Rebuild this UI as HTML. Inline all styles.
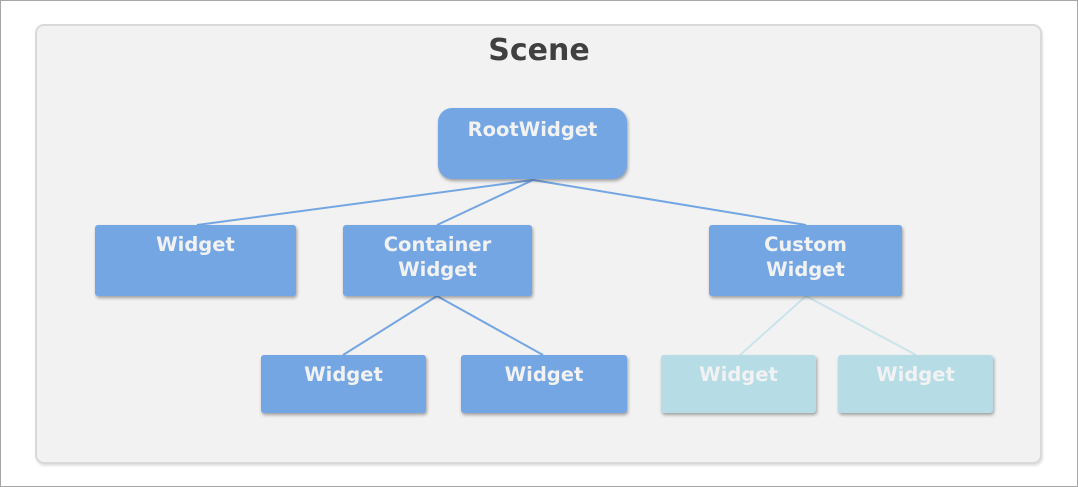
<!DOCTYPE html>
<html><head><style>
body{margin:0;width:1078px;height:487px;background:#fff;position:relative;overflow:hidden;font-family:"DejaVu Sans","Liberation Sans",sans-serif}
.frame{position:absolute;left:0;top:0;width:1076px;height:485px;border:1px solid #a6a6a6}
.scene{position:absolute;left:35px;top:24px;width:1003px;height:436px;background:#f2f2f2;border:2px solid #d9d9d9;border-radius:9px;box-shadow:1px 2px 2px rgba(0,0,0,.12)}
.t{position:absolute;left:0;width:1078px;top:33px;text-align:center;font-weight:bold;font-size:30px;color:#404040}
.b{position:absolute;background:#74a6e3;color:#f2f2f2;font-weight:bold;font-size:19.5px;text-align:center;line-height:25px;padding-top:7px;box-sizing:border-box;border-radius:3px;box-shadow:1px 2px 3px rgba(0,0,0,.35)}
.l{background:#b6dce6}
svg{position:absolute;left:0;top:0}
</style></head><body>
<div class="frame"></div>
<div class="scene"></div>
<div class="t">Scene</div>
<svg width="1078" height="487">
<g stroke="#74a6e3" stroke-width="2">
<line x1="533" y1="180" x2="197" y2="225"/>
<line x1="533" y1="180" x2="437" y2="225"/>
<line x1="533" y1="180" x2="806" y2="225"/>
<line x1="437" y1="296" x2="343" y2="355"/>
<line x1="437" y1="296" x2="543" y2="355"/>
</g>
<g stroke="#c9e4ea" stroke-width="2">
<line x1="806" y1="296" x2="740" y2="355"/>
<line x1="806" y1="296" x2="916" y2="355"/>
</g>
</svg>
<div class="b" style="left:438px;top:108px;width:189px;height:71px;border-radius:14px;padding-top:9px">RootWidget</div>
<div class="b" style="left:95px;top:225px;width:201px;height:71px">Widget</div>
<div class="b" style="left:343px;top:225px;width:189px;height:71px">Container<br>Widget</div>
<div class="b" style="left:709px;top:225px;width:193px;height:71px">Custom<br>Widget</div>
<div class="b" style="left:261px;top:355px;width:165px;height:58px">Widget</div>
<div class="b" style="left:461px;top:355px;width:166px;height:58px">Widget</div>
<div class="b l" style="left:661px;top:355px;width:155px;height:58px">Widget</div>
<div class="b l" style="left:838px;top:355px;width:155px;height:58px">Widget</div>
</body></html>
